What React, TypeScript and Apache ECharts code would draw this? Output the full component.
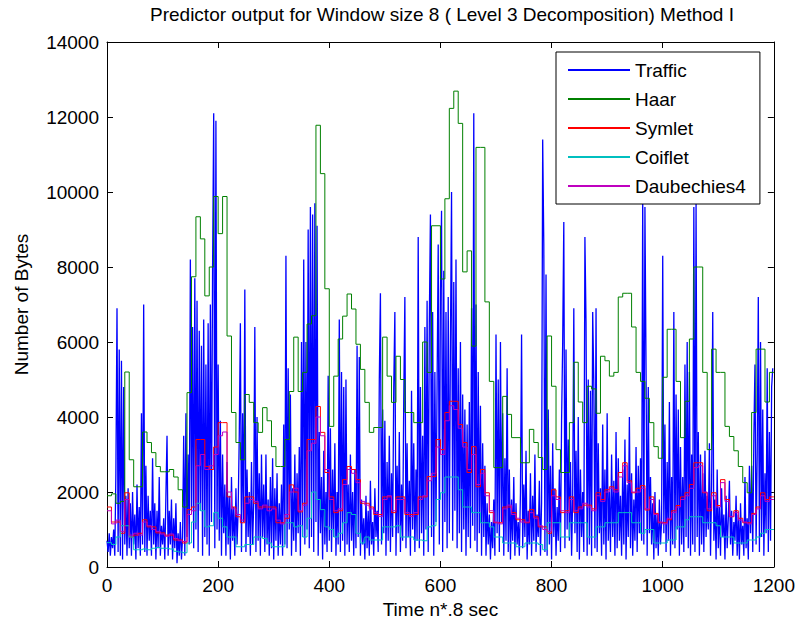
import React, { useEffect, useRef } from "react";
import * as echarts from "echarts";

const TITLE = "Predictor output for Window size 8 ( Level 3 Decomposition) Method I";
const X_NAME = "Time n*.8 sec";
const Y_NAME = "Number of Bytes";
const SERIES_NAMES = ["Traffic", "Haar", "Symlet", "Coiflet", "Daubechies4"];
const SERIES_COLORS = ["#0000ff", "#008000", "#ff0000", "#00bfbf", "#bf00bf"];
const SERIES_WIDTHS = [1.3, 1, 1, 1, 1];
const TRAFFIC_STEP = 2;
const WINDOW = 8;
const X_MAX = 1200;
const Y_MAX = 14000;

const trafficValues = [
  700, 400, 900, 300, 800, 500, 1000, 300, 2500, 6900, 400, 5800, 300, 5500, 200, 4800, 600, 1900, 300, 2100,
  500, 1700, 300, 2000, 600, 1400, 200, 2200, 500, 1600, 300, 4100, 600, 7000, 400, 2700, 300, 1900, 700, 1500,
  300, 2900, 600, 1700, 200, 1500, 500, 2400, 300, 1100, 600, 1300, 200, 1900, 3500, 300, 1500, 600, 1800, 200,
  1300, 500, 1700, 100, 900, 300, 1200, 200, 800, 3500, 300, 4100, 800, 3000, 600, 8200, 1500, 6400, 500, 7700,
  1000, 7100, 400, 6300, 1500, 5900, 300, 6600, 800, 5400, 600, 6500, 300, 7000, 1200, 8000, 12100, 500, 11900, 1000,
  5400, 700, 3900, 300, 3000, 900, 2200, 300, 2800, 600, 1900, 200, 2400, 700, 1600, 300, 2100, 600, 1500, 3500,
  6500, 400, 4100, 1200, 7400, 400, 2600, 800, 2000, 300, 2800, 600, 1700, 6400, 400, 4000, 700, 2500, 300, 3000,
  800, 2200, 400, 3000, 600, 1800, 300, 2400, 500, 2900, 200, 2100, 700, 2500, 300, 1700, 600, 2200, 300, 3800,
  600, 8300, 500, 5300, 1000, 4600, 300, 2100, 700, 3000, 400, 2500, 900, 3200, 300, 6000, 800, 8200, 600, 6000,
  1000, 9000, 500, 9600, 800, 9400, 400, 9700, 1200, 9100, 300, 3600, 900, 2400, 200, 3100, 600, 2000, 400, 5100,
  700, 3700, 400, 2600, 800, 3300, 300, 2000, 600, 6600, 400, 5200, 700, 4800, 300, 5000, 600, 2200, 400, 3000,
  700, 2000, 300, 2600, 500, 5900, 800, 5600, 300, 1800, 600, 1300, 200, 1900, 500, 1500, 300, 2300, 600, 1200,
  300, 2100, 800, 1500, 400, 5000, 7300, 600, 4200, 900, 3900, 300, 2800, 700, 3500, 400, 2500, 800, 4800, 6800,
  300, 2700, 900, 3600, 400, 2200, 700, 4500, 7200, 500, 3300, 800, 2300, 300, 4700, 1000, 3300, 400, 2600, 700,
  8800, 500, 4800, 900, 3500, 300, 6400, 1000, 7100, 400, 6500, 9400, 800, 6800, 300, 5200, 1200, 4900, 8600, 600,
  7400, 9500, 400, 7900, 1200, 6800, 500, 7200, 900, 6000, 10000, 700, 7600, 1500, 8200, 500, 5300, 900, 6000, 400,
  4600, 1000, 4200, 300, 3800, 800, 4400, 500, 6900, 1100, 12100, 700, 7000, 400, 5200, 900, 4300, 300, 3300, 800,
  2700, 300, 1700, 600, 1400, 200, 1200, 500, 1800, 300, 6200, 900, 5000, 400, 6000, 1200, 4100, 300, 2900, 700,
  5300, 400, 2600, 200, 1800, 700, 2400, 300, 1700, 600, 1200, 300, 2000, 6200, 500, 2200, 800, 3100, 200, 1500,
  600, 2500, 300, 1900, 700, 3000, 400, 1400, 800, 2300, 300, 1700, 11400, 8600, 400, 7800, 300, 4200, 600, 2700,
  200, 3300, 800, 2100, 300, 1600, 700, 2600, 400, 3900, 6000, 9200, 500, 5800, 1000, 3400, 700, 2800, 300, 1900,
  6900, 900, 3100, 400, 4000, 200, 2600, 800, 2000, 400, 8800, 6500, 300, 5000, 600, 4700, 300, 6800, 4900, 500,
  6900, 400, 3300, 900, 2100, 300, 3800, 600, 2600, 200, 4100, 700, 2000, 400, 3000, 800, 2300, 300, 3600, 500,
  2900, 700, 1900, 300, 2600, 600, 3400, 200, 2200, 800, 4000, 500, 2500, 300, 1800, 700, 3200, 400, 2700, 900,
  2900, 700, 9900, 600, 9600, 5300, 300, 4800, 900, 2400, 600, 1700, 200, 2000, 500, 1400, 300, 1800, 600, 1200,
  8300, 900, 3800, 400, 2800, 700, 4400, 300, 2400, 600, 6800, 500, 4600, 1000, 4200, 300, 3200, 600, 2400, 400,
  5400, 800, 6000, 500, 5200, 300, 3000, 600, 9600, 400, 9700, 800, 3600, 300, 3000, 600, 2500, 400, 3100, 800,
  1900, 1000, 3300, 300, 2200, 6800, 700, 1800, 200, 2600, 500, 1600, 300, 2100, 800, 1400, 200, 1900, 500, 1300,
  2300, 600, 1500, 300, 1200, 700, 1900, 300, 1400, 200, 1700, 600, 1100, 300, 2400, 500, 1300, 200, 2700, 900,
  2700, 400, 3500, 5400, 600, 3000, 7200, 400, 6000, 800, 4200, 300, 2500, 900, 5300, 400, 3600, 700, 4800, 5300,
];

const haarValues = [
  1900, 1950, 1700, 1750, 5200, 2860, 2140, 2140, 3600, 3320,
  3050, 2680, 2540, 2540, 2600, 2400, 2060, 1600, 4650, 7740,
  9340, 8750, 7230, 8000, 9880, 8890, 9880, 6160, 4120, 3320,
  2860, 4600, 4390, 3850, 3590, 4250, 3900, 3210, 2680, 2680,
  3400, 4680, 6130, 4680, 5190, 6480, 6700, 11780, 10490, 7420,
  3750, 5090, 6080, 6690, 7280, 6880, 5940, 5270, 4390, 3590,
  3720, 3720, 6130, 5090, 4390, 5620, 5000, 4120, 4120, 3850,
  3850, 6000, 5190, 9100, 9100, 7680, 9820, 12230, 12690, 11830,
  7870, 8430, 5890, 11190, 11190, 7070, 4950, 2650, 2650, 4550,
  4070, 3450, 3450, 2780, 2780, 3670, 3320, 2920, 2600, 6160,
  4820, 3130, 2520, 2520, 3850, 5460, 4400, 3850, 4820, 4750,
  4100, 5620, 5500, 5090, 5190, 7200, 7300, 7300, 6400, 5190,
  4950, 4500, 3850, 3210, 2900, 5060, 6340, 6340, 4950, 3450,
  4420, 6080, 8000, 8000, 5190, 3130, 5810, 5190, 5190, 3750,
  3480, 3100, 2680, 2250, 1980, 4120, 5810, 5810, 4400, 5190,
];

const symletValues = [
  1600, 1200, 1200, 900, 1980, 800, 850, 900, 1260, 1070,
  1070, 910, 910, 850, 850, 720, 720, 640, 1530, 1600,
  3400, 3400, 2680, 2600, 3200, 3850, 3850, 1870, 1600, 1340,
  1180, 1870, 1870, 1700, 1600, 1600, 1600, 1600, 1180, 1180,
  1300, 2190, 2000, 1470, 1700, 3400, 3400, 4280, 3590, 2520,
  1870, 1450, 1500, 2330, 2680, 2600, 2330, 1700, 1700, 1600,
  1400, 1400, 1870, 1870, 1450, 1870, 1870, 1400, 1400, 1400,
  1870, 1870, 2410, 2410, 3400, 3130, 4120, 4420, 4420, 3800,
  3320, 2520, 3210, 2140, 2600, 1980, 1450, 1180, 1180, 1600,
  1600, 1450, 1260, 1260, 1180, 1530, 1340, 1070, 1070, 900,
  2060, 1870, 1450, 1500, 1870, 1450, 1600, 1650, 1650, 1550,
  1980, 1800, 2060, 2140, 2060, 2520, 2780, 2300, 1980, 2100,
  2170, 1520, 1870, 1430, 1180, 1180, 1260, 1500, 1640, 1870,
  1980, 2200, 2780, 2780, 1980, 1500, 1980, 1640, 2330, 1800,
  1340, 1500, 1300, 1180, 1180, 1430, 1600, 1980, 1800, 1870,
];

const coifletValues = [
  650, 600, 800, 1100, 1100, 800, 460, 460, 480, 460,
  500, 520, 500, 500, 480, 420, 400, 380, 640, 1200,
  1700, 1500, 1070, 1100, 1450, 1300, 1070, 800, 800, 540,
  540, 600, 600, 800, 800, 760, 640, 540, 540, 540,
  1180, 1180, 1070, 1100, 800, 1300, 2000, 1800, 1530, 1070,
  1000, 800, 900, 1180, 1450, 1400, 900, 640, 800, 720,
  720, 720, 1070, 1070, 1070, 1100, 800, 800, 800, 720,
  720, 700, 1070, 1100, 1800, 1980, 2400, 2400, 2400, 2060,
  1600, 1600, 1450, 1450, 1180, 1180, 1070, 800, 800, 640,
  640, 640, 540, 540, 640, 640, 640, 600, 460, 1180,
  1180, 1180, 800, 800, 1180, 1180, 1180, 1180, 800, 800,
  1070, 1070, 1180, 1180, 1180, 1450, 1450, 1450, 1180, 1180,
  900, 1000, 1000, 640, 640, 640, 720, 720, 1070, 1070,
  1260, 1340, 1340, 1340, 1180, 1180, 1180, 1100, 800, 800,
  800, 640, 640, 640, 720, 720, 800, 900, 1000, 1000,
];

const daub4Values = [
  1500, 1150, 1250, 950, 1800, 850, 900, 850, 1200, 1100,
  1000, 950, 880, 820, 880, 760, 700, 680, 1400, 1500,
  2700, 3000, 2600, 2700, 3000, 3500, 3600, 2000, 1550, 1400,
  1250, 1700, 1800, 1750, 1550, 1650, 1500, 1550, 1250, 1150,
  1400, 2000, 2100, 1500, 1650, 3100, 3300, 4000, 3500, 2600,
  1800, 1500, 1550, 2200, 2600, 2500, 2250, 1750, 1650, 1550,
  1450, 1350, 1800, 1900, 1500, 1800, 1800, 1450, 1350, 1450,
  1800, 1900, 2300, 2500, 3200, 3000, 3900, 4300, 4200, 3700,
  3200, 2600, 3000, 2200, 2500, 1900, 1500, 1200, 1150, 1550,
  1650, 1400, 1300, 1200, 1200, 1450, 1300, 1100, 1000, 950,
  1900, 1800, 1500, 1450, 1800, 1500, 1550, 1700, 1600, 1500,
  1900, 1750, 2000, 2100, 2000, 2400, 2700, 2250, 2000, 2000,
  2100, 1550, 1800, 1400, 1200, 1150, 1300, 1450, 1600, 1800,
  1900, 2100, 2650, 2700, 2000, 1550, 1900, 1600, 2250, 1750,
  1350, 1450, 1250, 1200, 1150, 1400, 1550, 1900, 1750, 1800,
];

const FONT = "'Liberation Sans', Arial, Helvetica, sans-serif";
const FS = 19;

function stairs(vals: number[]) {
  const pts = vals.map((v, i) => [i * WINDOW, v]);
  pts.push([vals.length * WINDOW, vals[vals.length - 1]]);
  return pts;
}

function axisCommon(showLabel: boolean) {
  return {
    axisLine: { show: true, onZero: false, lineStyle: { color: "#000", width: 1 } },
    axisTick: { show: true, inside: true, length: 6, lineStyle: { color: "#000", width: 1 } },
    axisLabel: { show: showLabel, color: "#000", fontSize: FS, fontFamily: FONT },
    splitLine: { show: false },
  };
}

const plain = (v: number) => String(v);

export default function App() {
  const ref = useRef<HTMLDivElement>(null);
  useEffect(() => {
    if (!ref.current) return;
    const chart = echarts.init(ref.current, undefined, { renderer: "svg" });
    const datasets = [
      trafficValues.map((v, i) => [i * TRAFFIC_STEP, v]),
      stairs(haarValues),
      stairs(symletValues),
      stairs(coifletValues),
      stairs(daub4Values),
    ];
    const series = SERIES_NAMES.map((name, k) => ({
      name,
      type: "line",
      data: datasets[k],
      step: k === 0 ? false : "end",
      showSymbol: false,
      symbol: "none",
      silent: true,
      clip: true,
      lineStyle: { width: SERIES_WIDTHS[k], color: SERIES_COLORS[k] },
      itemStyle: { color: SERIES_COLORS[k] },
      emphasis: { disabled: true },
      xAxisIndex: 0,
      yAxisIndex: 0,
    }));
    chart.setOption({
      animation: false,
      backgroundColor: "#ffffff",
      textStyle: { fontFamily: FONT },
      grid: { left: 107, right: 20, top: 42, bottom: 58, containLabel: false },
      xAxis: [
        {
          type: "value", min: 0, max: X_MAX, interval: 200, position: "bottom",
          name: X_NAME, nameLocation: "middle", nameGap: 31,
          nameTextStyle: { color: "#000", fontSize: FS, fontFamily: FONT },
          ...axisCommon(true),
          axisLabel: { show: true, color: "#000", fontSize: FS, fontFamily: FONT, margin: 9, formatter: plain },
        },
        { type: "value", min: 0, max: X_MAX, interval: 200, position: "top", ...axisCommon(false) },
      ],
      yAxis: [
        {
          type: "value", min: 0, max: Y_MAX, interval: 2000, position: "left",
          name: Y_NAME, nameLocation: "middle", nameGap: 76,
          nameTextStyle: { color: "#000", fontSize: FS, fontFamily: FONT },
          ...axisCommon(true),
          axisLabel: { show: true, color: "#000", fontSize: FS, fontFamily: FONT, margin: 8, formatter: plain },
        },
        { type: "value", min: 0, max: Y_MAX, interval: 2000, position: "right", ...axisCommon(false) },
      ],
      legend: {
        orient: "vertical",
        left: 556,
        top: 52,
        padding: [8, 14, 8, 12],
        itemGap: 9,
        itemWidth: 62,
        itemHeight: 2,
        icon: "rect",
        backgroundColor: "#ffffff",
        borderColor: "#000000",
        borderWidth: 1,
        borderRadius: 0,
        selectedMode: false,
        textStyle: { color: "#000", fontSize: FS, fontFamily: FONT, lineHeight: 20 },
        data: SERIES_NAMES,
      },
      graphic: [
        {
          type: "text",
          x: 442,
          y: 14,
          style: {
            text: TITLE,
            fill: "#000",
            fontSize: FS,
            fontFamily: FONT,
            align: "center",
            verticalAlign: "middle",
            textAlign: "center",
            textVerticalAlign: "middle",
          },
        },
      ],
      series,
    });
    return () => chart.dispose();
  }, []);
  return (
    <div
      ref={ref}
      style={{ position: "fixed", left: 0, top: 0, width: 798, height: 625, background: "#fff" }}
    />
  );
}
